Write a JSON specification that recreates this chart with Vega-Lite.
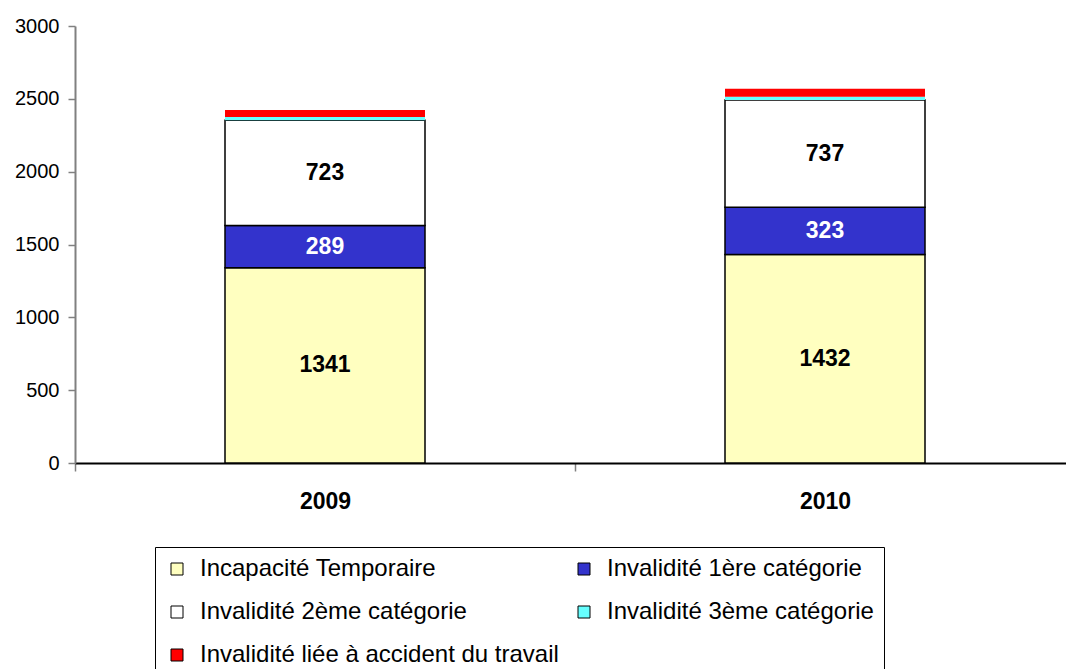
{
  "$schema": "https://vega.github.io/schema/vega-lite/v6.json",
  "width": 991,
  "height": 437,
  "autosize": {"type": "none"},
  "padding": {"left": 75, "top": 26, "right": 0, "bottom": 206},
  "background": "white",
  "config": {"font": "Liberation Sans", "view": {"stroke": null}},
  "data": {
    "values": [
      {"year": "2009", "cat": "Incapacité Temporaire", "ord": 1, "value": 1341},
      {"year": "2009", "cat": "Invalidité 1ère catégorie", "ord": 2, "value": 289},
      {"year": "2009", "cat": "Invalidité 2ème catégorie", "ord": 3, "value": 723},
      {"year": "2009", "cat": "Invalidité 3ème catégorie", "ord": 4, "value": 22},
      {"year": "2009", "cat": "Invalidité liée à accident du travail", "ord": 5, "value": 48},
      {"year": "2010", "cat": "Incapacité Temporaire", "ord": 1, "value": 1432},
      {"year": "2010", "cat": "Invalidité 1ère catégorie", "ord": 2, "value": 323},
      {"year": "2010", "cat": "Invalidité 2ème catégorie", "ord": 3, "value": 737},
      {"year": "2010", "cat": "Invalidité 3ème catégorie", "ord": 4, "value": 23},
      {"year": "2010", "cat": "Invalidité liée à accident du travail", "ord": 5, "value": 54}
    ]
  },
  "transform": [
    {"stack": "value", "groupby": ["year"], "sort": [{"field": "ord", "order": "ascending"}], "as": ["v0", "v1"]},
    {"calculate": "(datum.v0 + datum.v1) / 2", "as": "mid"}
  ],
  "encoding": {
    "x": {
      "field": "year",
      "type": "nominal",
      "title": null,
      "scale": {"paddingInner": 0, "paddingOuter": 0, "range": [0, 1000]},
      "axis": {
        "labelAngle": 0,
        "labelFontSize": 23,
        "labelFontWeight": "bold",
        "labelColor": "black",
        "labelPadding": 19,
        "domainColor": "black",
        "domainWidth": 2,
        "tickBand": "extent",
        "tickColor": "#808080",
        "tickWidth": 1.5,
        "tickSize": 8
      }
    }
  },
  "layer": [
    {
      "mark": {"type": "bar", "stroke": "black", "width": {"band": 0.4}},
      "encoding": {
        "y": {
          "field": "v0",
          "type": "quantitative",
          "title": null,
          "scale": {"domain": [0, 3000], "nice": false},
          "axis": {
            "values": [0, 500, 1000, 1500, 2000, 2500, 3000],
            "format": "d",
            "grid": false,
            "labelFontSize": 20,
            "labelColor": "black",
            "labelPadding": 9,
            "domainColor": "#808080",
            "domainWidth": 2,
            "tickColor": "#808080",
            "tickWidth": 1.5,
            "tickSize": 7
          }
        },
        "y2": {"field": "v1"},
        "color": {
          "field": "cat",
          "type": "nominal",
          "sort": null,
          "scale": {
            "domain": [
              "Incapacité Temporaire",
              "Invalidité 1ère catégorie",
              "Invalidité 2ème catégorie",
              "Invalidité 3ème catégorie",
              "Invalidité liée à accident du travail"
            ],
            "range": ["#FFFFC0", "#3333CC", "#FFFFFF", "#66FFFF", "#FF0000"]
          },
          "legend": {
            "title": null,
            "orient": "none",
            "legendX": 80,
            "legendY": 521,
            "columns": 2,
            "direction": "horizontal",
            "gridAlign": "each",
            "columnPadding": 13,
            "rowPadding": 19,
            "padding": 10,
            "strokeColor": "black",
            "fillColor": "white",
            "symbolType": "square",
            "symbolSize": 144,
            "symbolStrokeWidth": 1,
            "symbolOpacity": 1,
            "labelFontSize": 24,
            "labelColor": "black",
            "labelOffset": 11,
            "labelLimit": 600,
            "encode": {
              "symbols": {
                "update": {
                  "stroke": {"signal": "(datum.value == 'Invalidité 3ème catégorie' || datum.value == 'Invalidité liée à accident du travail') ? 'transparent' : 'black'"}
                }
              }
            }
          }
        },
        "strokeWidth": {
          "condition": {"test": "datum.ord >= 4", "value": 0},
          "value": 1.5
        },
        "order": {"field": "ord", "type": "quantitative"}
      }
    },
    {
      "transform": [{"filter": "datum.ord <= 3"}],
      "mark": {"type": "text", "fontSize": 23, "fontWeight": "bold", "baseline": "middle", "align": "center"},
      "encoding": {
        "y": {"field": "mid", "type": "quantitative"},
        "text": {"field": "value", "type": "quantitative"},
        "color": {
          "condition": {"test": "datum.ord == 2", "value": "white"},
          "value": "black"
        }
      }
    }
  ]
}
